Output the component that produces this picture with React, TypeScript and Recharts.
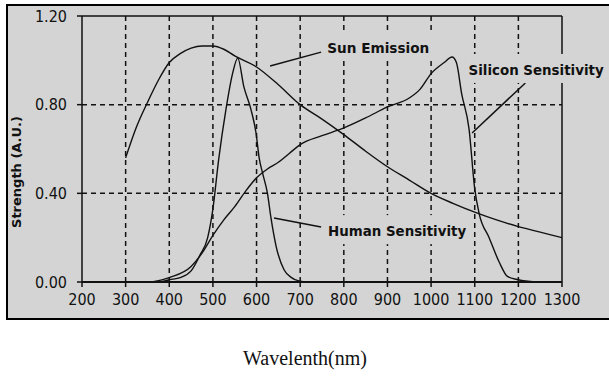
import React from 'react'
import { LineChart, Line, XAxis, YAxis, ReferenceLine, ReferenceDot, Label } from 'recharts'

// ---------------------------------------------------------------------------
// Data (wavelength in nm, strength in A.U.)
// ---------------------------------------------------------------------------

const sunWl = [300, 325, 350, 375, 400, 425, 450, 475, 500, 525, 550, 600, 650, 700, 750, 800, 850, 900, 950, 1000, 1050, 1100, 1150, 1200, 1250, 1300]
const sunVal = [0.56, 0.7, 0.81, 0.91, 0.99, 1.03, 1.055, 1.065, 1.065, 1.05, 1.02, 0.97, 0.89, 0.8, 0.735, 0.665, 0.59, 0.52, 0.46, 0.4, 0.355, 0.315, 0.28, 0.25, 0.225, 0.2]

const humanWl = [380, 400, 425, 450, 470, 488, 500, 513, 530, 545, 557, 571, 587, 599, 606, 614, 625, 633, 645, 663, 680, 697, 720]
const humanVal = [0, 0.01, 0.02, 0.05, 0.12, 0.2, 0.33, 0.55, 0.78, 0.94, 1.01, 0.88, 0.78, 0.67, 0.56, 0.49, 0.4, 0.29, 0.16, 0.055, 0.02, 0.005, 0]

const siliconWl = [360, 400, 450, 475, 500, 525, 550, 575, 600, 625, 650, 675, 700, 750, 800, 850, 900, 950, 975, 1000, 1030, 1048, 1058, 1070, 1087, 1100, 1110, 1133, 1156, 1175, 1200, 1240]
const siliconVal = [0, 0.02, 0.07, 0.13, 0.21, 0.28, 0.34, 0.41, 0.47, 0.51, 0.54, 0.58, 0.62, 0.66, 0.695, 0.74, 0.79, 0.83, 0.87, 0.94, 0.99, 1.015, 0.99, 0.85, 0.69, 0.42, 0.31, 0.2, 0.09, 0.025, 0.01, 0]

const xTicks = [200, 300, 400, 500, 600, 700, 800, 900, 1000, 1100, 1200, 1300]
const yTicks = [0, 0.4, 0.8, 1.2]

const toPoints = (wl: number[], val: number[]) => wl.map((w, i) => ({ wl: w, v: val[i] }))

const sunData = toPoints(sunWl, sunVal)
const humanData = toPoints(humanWl, humanVal)
const siliconData = toPoints(siliconWl, siliconVal)

// ---------------------------------------------------------------------------
// Styling
// ---------------------------------------------------------------------------

const INK = '#111'
const PANEL = '#d4d4d4'
const TICK_FONT = "'Liberation Sans Narrow', 'DejaVu Sans Condensed', 'Liberation Sans', sans-serif"
const TAG_FONT = "'DejaVu Sans', Verdana, sans-serif"

const tickStyle = { fontSize: 16, fill: INK, fontFamily: TICK_FONT }

// callout text with a panel-coloured box behind it (hides grid / frame lines)
function tag(text: string, width: number) {
  return (props: any) => {
    const { cx, cy } = props
    return (
      <g>
        <rect x={cx - 4} y={cy - 21} width={width + 8} height={29} fill={PANEL} />
        <text
          x={cx}
          y={cy}
          fontFamily={TAG_FONT}
          fontWeight="bold"
          fontSize={13.5}
          fill={INK}
          textLength={width}
          lengthAdjust="spacingAndGlyphs"
        >
          {text}
        </text>
      </g>
    )
  }
}

export default function App() {
  return (
    <div style={{ position: 'absolute', left: 0, top: 0, width: 609, height: 383, background: '#fff' }}>
      <div
        style={{
          position: 'absolute',
          left: 6,
          top: 4,
          width: 603,
          height: 316,
          boxSizing: 'border-box',
          background: PANEL,
          borderLeft: '2px solid #000',
          borderTop: '2px solid #000',
          borderBottom: '2px solid #000',
        }}
      />
      <div style={{ position: 'absolute', left: 0, top: 0 }}>
        <LineChart width={609} height={383} margin={{ top: 16, right: 47, bottom: 71, left: 22 }}>
          <XAxis
            type="number"
            dataKey="wl"
            domain={[200, 1300]}
            ticks={xTicks}
            interval={0}
            allowDataOverflow
            height={30}
            tickSize={5}
            tickMargin={7}
            tick={tickStyle}
            axisLine={{ stroke: INK, strokeWidth: 2 }}
            tickLine={{ stroke: INK, strokeWidth: 1.5 }}
          >
            <Label
              content={() => (
                <text x={305} y={365} textAnchor="middle" fontFamily="'Liberation Serif', 'Times New Roman', serif" fontSize={20} fill="#111">
                  Wavelenth(nm)
                </text>
              )}
            />
          </XAxis>
          <YAxis
            type="number"
            domain={[0, 1.2]}
            ticks={yTicks}
            interval={0}
            width={60}
            tickSize={5}
            tickMargin={10}
            tick={tickStyle}
            tickFormatter={(v: number) => v.toFixed(2)}
            axisLine={{ stroke: INK, strokeWidth: 1.5 }}
            tickLine={{ stroke: INK, strokeWidth: 1.5 }}
          >
            <Label
              content={() => (
                <text
                  x={21}
                  y={172}
                  transform="rotate(-90 21 172)"
                  textAnchor="middle"
                  fontFamily={TAG_FONT}
                  fontWeight="bold"
                  fontSize={13}
                  fill={INK}
                >
                  Strength (A.U.)
                </text>
              )}
            />
          </YAxis>

          {/* dashed grid */}
          {xTicks.slice(1, -1).map((t) => (
            <ReferenceLine key={'gx' + t} x={t} stroke={INK} strokeWidth={1.5} strokeDasharray="5 4" />
          ))}
          {yTicks.slice(1, -1).map((t) => (
            <ReferenceLine key={'gy' + t} y={t} stroke={INK} strokeWidth={1.5} strokeDasharray="5 4" />
          ))}
          {/* solid frame top / right */}
          <ReferenceLine y={1.2} stroke={INK} strokeWidth={1.5} />
          <ReferenceLine x={1300} stroke={INK} strokeWidth={1.5} />

          <Line data={sunData} dataKey="v" type="monotone" stroke={INK} strokeWidth={1.4} dot={false} isAnimationActive={false} />
          <Line data={humanData} dataKey="v" type="monotone" stroke={INK} strokeWidth={1.4} dot={false} isAnimationActive={false} />
          <Line data={siliconData} dataKey="v" type="monotone" stroke={INK} strokeWidth={1.4} dot={false} isAnimationActive={false} />

          {/* callouts */}
          <ReferenceDot x={762} y={1.033} r={0} shape={tag('Sun Emission', 102)} />
          <ReferenceDot x={1086} y={0.934} r={0} shape={tag('Silicon Sensitivity', 135)} />
          <ReferenceDot x={764} y={0.207} r={0} shape={tag('Human Sensitivity', 138)} />

          <ReferenceLine segment={[{ x: 631, y: 0.974 }, { x: 748, y: 1.037 }]} stroke={INK} strokeWidth={1.5} />
          <ReferenceLine segment={[{ x: 1094, y: 0.672 }, { x: 1216, y: 0.898 }]} stroke={INK} strokeWidth={1.5} />
          <ReferenceLine segment={[{ x: 640, y: 0.289 }, { x: 748, y: 0.248 }]} stroke={INK} strokeWidth={1.5} />
        </LineChart>
      </div>
    </div>
  )
}
